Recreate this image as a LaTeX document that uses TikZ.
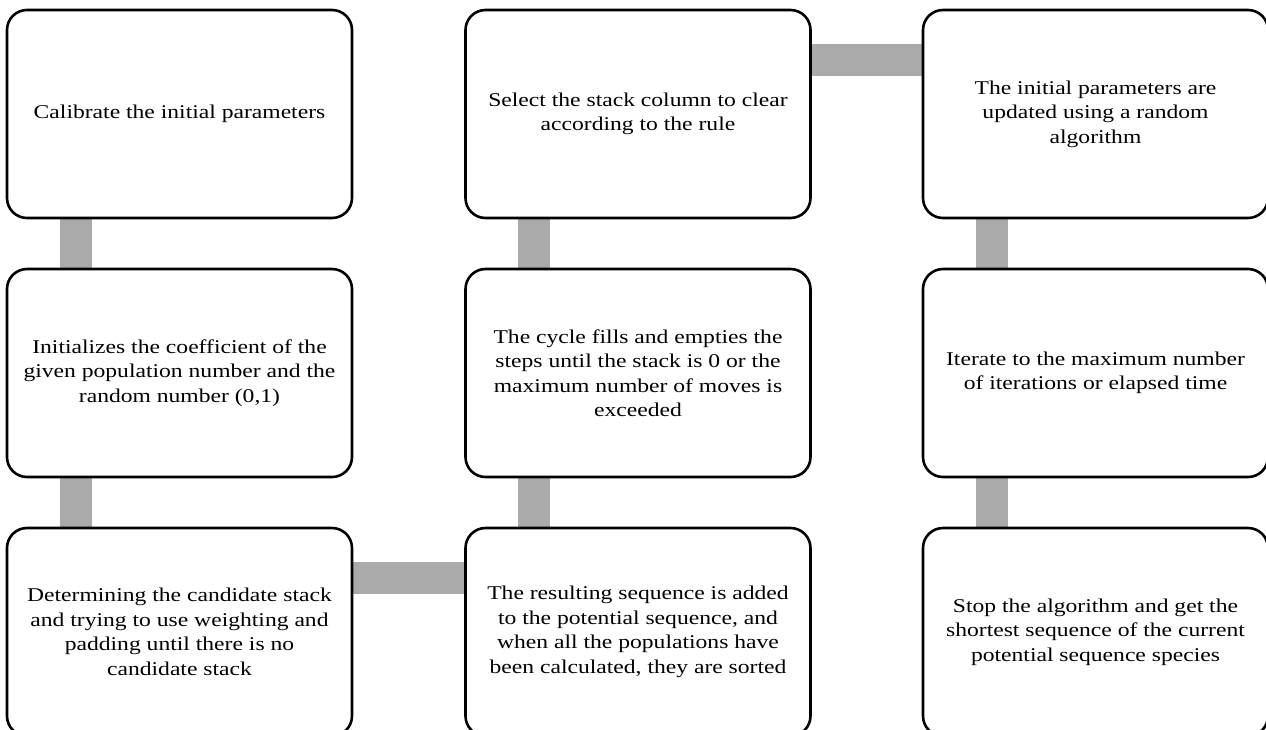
\documentclass[tikz,border=0pt]{standalone}
\usepackage{fontspec}
\setmainfont{Liberation Serif}[FakeStretch=1.21]
\usetikzlibrary{backgrounds}
\definecolor{conngray}{RGB}{170,170,170}
\begin{document}
\begin{tikzpicture}[x=1pt,y=-1pt,
  box/.style={draw, line width=2.6pt, rounded corners=20pt, minimum width=345pt,
    minimum height=208pt, inner sep=0pt, align=center,
    font=\fontsize{19.5}{24.5}\selectfont},
  conn/.style={line width=32pt, draw=conngray}]
\useasboundingbox (0,0) rectangle (1266,729);
\node[box] (A) at (179.5,114) {Calibrate the initial parameters};
\node[box] (B) at (179.5,373) {Initializes the coefficient of the\\given population number and the\\random number (0,1)};
\node[box] (C) at (179.5,632) {Determining the candidate stack\\and trying to use weighting and\\padding until there is no\\candidate stack};
\node[box] (D) at (638,114) {Select the stack column to clear\\according to the rule};
\node[box] (E) at (638,373) {The cycle fills and empties the\\steps until the stack is 0 or the\\maximum number of moves is\\exceeded};
\node[box] (F) at (638,632) {The resulting sequence is added\\to the potential sequence, and\\when all the populations have\\been calculated, they are sorted};
\node[box] (G) at (1095.5,114) {The initial parameters are\\updated using a random\\algorithm};
\node[box] (H) at (1095.5,373) {Iterate to the maximum number\\of iterations or elapsed time};
\node[box] (I) at (1095.5,632) {Stop the algorithm and get the\\shortest sequence of the current\\potential sequence species};
\begin{scope}[on background layer]
\draw[conn] ([xshift=70pt]A.south west) -- ([xshift=70pt]B.north west);
\draw[conn] ([xshift=70pt]B.south west) -- ([xshift=70pt]C.north west);
\draw[conn] ([yshift=-51pt]C.north east) -- ([yshift=-51pt]F.north west);
\draw[conn] ([xshift=70pt]F.north west) -- ([xshift=70pt]E.south west);
\draw[conn] ([xshift=70pt]E.north west) -- ([xshift=70pt]D.south west);
\draw[conn] ([yshift=-51pt]D.north east) -- ([yshift=-51pt]G.north west);
\draw[conn] ([xshift=70pt]G.south west) -- ([xshift=70pt]H.north west);
\draw[conn] ([xshift=70pt]H.south west) -- ([xshift=70pt]I.north west);
\end{scope}
\end{tikzpicture}
\end{document}
